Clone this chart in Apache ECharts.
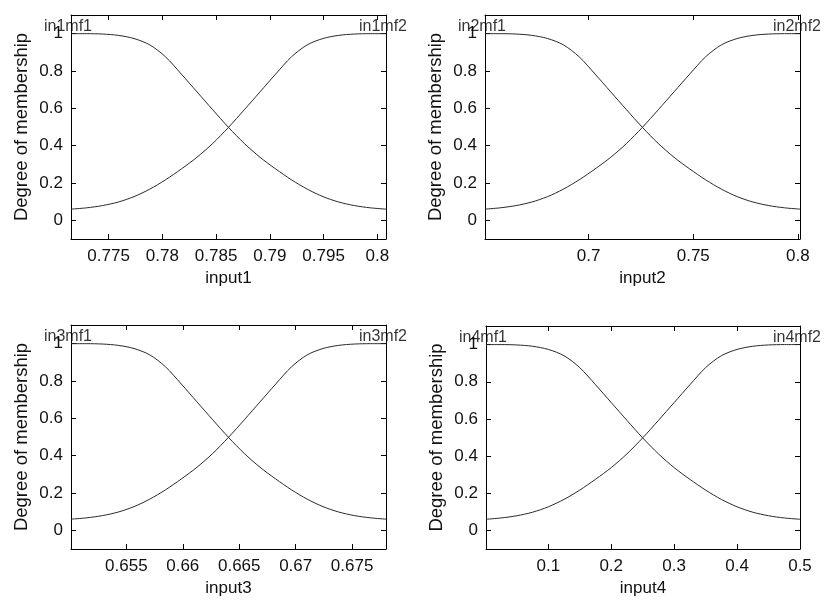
<!DOCTYPE html>
<html>
<head>
<meta charset="utf-8">
<script src="https://cdn.jsdelivr.net/npm/echarts@6/dist/echarts.min.js"></script>
<style>
html,body{margin:0;padding:0;background:#fff;}
#c{width:827px;height:601px;}
</style>
</head>
<body>
<div id="c"></div>
<script>
// Input names and membership function labels
const inputNames = ['input1', 'input2', 'input3', 'input4'];
const mfNames = [['in1mf1', 'in1mf2'], ['in2mf1', 'in2mf2'], ['in3mf1', 'in3mf2'], ['in4mf1', 'in4mf2']];

// Axis ranges
const xMins = [0.7715, 0.6505, 0.6501, 0.001];
const xMaxs = [0.8008, 0.801, 0.678, 0.5];

// X tick values per panel
const xTicks1 = [0.775, 0.78, 0.785, 0.79, 0.795, 0.8];
const xTicks2 = [0.7, 0.75, 0.8];
const xTicks3 = [0.655, 0.66, 0.665, 0.67, 0.675];
const xTicks4 = [0.1, 0.2, 0.3, 0.4, 0.5];
const yTicks = [0, 0.2, 0.4, 0.6, 0.8, 1];

// Sample positions along each input
const xs1 = [0.7715, 0.772965, 0.77443, 0.775895, 0.77736, 0.778825, 0.78029, 0.781755, 0.78322, 0.784685, 0.78615, 0.787615, 0.78908, 0.790545, 0.79201, 0.793475, 0.79494, 0.796405, 0.79787, 0.799335, 0.8008];
const xs2 = [0.6505, 0.65775, 0.6653, 0.67285, 0.6804, 0.68795, 0.6955, 0.70305, 0.7106, 0.71815, 0.7257, 0.73325, 0.7408, 0.74835, 0.7559, 0.76345, 0.771, 0.77855, 0.7861, 0.79365, 0.801];
const xs3 = [0.6501, 0.651495, 0.65289, 0.654285, 0.65568, 0.657075, 0.65847, 0.659865, 0.66126, 0.662655, 0.66405, 0.665445, 0.66684, 0.668235, 0.66963, 0.671025, 0.67242, 0.673815, 0.67521, 0.676605, 0.678];
const xs4 = [0.001, 0.025, 0.05, 0.075, 0.1, 0.125, 0.15, 0.175, 0.2, 0.225, 0.25, 0.275, 0.3, 0.325, 0.35, 0.375, 0.4, 0.425, 0.45, 0.475, 0.5];

// Degree of membership values read at those positions (same shape in all panels)
const mf1Degree = [1.0, 1.0, 0.998, 0.991, 0.974, 0.94, 0.876, 0.784, 0.688, 0.592, 0.498, 0.412, 0.338, 0.275, 0.217, 0.167, 0.127, 0.098, 0.079, 0.067, 0.06];
const mf2Degree = [0.06, 0.067, 0.079, 0.098, 0.127, 0.167, 0.217, 0.275, 0.338, 0.412, 0.498, 0.592, 0.688, 0.784, 0.876, 0.94, 0.974, 0.991, 0.998, 1.0, 1.0];

const xsAll = [xs1, xs2, xs3, xs4];
const xTicksAll = [xTicks1, xTicks2, xTicks3, xTicks4];

const FONT = 'Liberation Sans';
const grids = [
  {left: 71, top: 15, width: 315, height: 224},
  {left: 485, top: 15, width: 315, height: 224},
  {left: 71, top: 325, width: 315, height: 224},
  {left: 486, top: 326, width: 314, height: 223}
];

const fmt = v => String(+(+v).toFixed(4));
const xAxes = [], yAxes = [], series = [];
for (let i = 0; i < 4; i++) {
  const common = {
    type: 'value', gridIndex: i, min: xMins[i], max: xMaxs[i],
    splitLine: {show: false},
    axisLine: {show: true, onZero: false, lineStyle: {color: '#000', width: 1}},
    axisTick: {show: true, inside: true, length: 5, customValues: xTicksAll[i], lineStyle: {color: '#000'}}
  };
  xAxes.push(Object.assign({}, common, {
    position: 'bottom',
    axisLabel: {show: true, customValues: xTicksAll[i], formatter: fmt, margin: 9, fontSize: 17, color: '#111', fontFamily: FONT},
    name: inputNames[i], nameLocation: 'middle', nameGap: 31,
    nameTextStyle: {fontSize: 17, color: '#111', fontFamily: FONT}
  }));
  xAxes.push(Object.assign({}, common, {position: 'top', axisLabel: {show: false}}));
  const ycommon = {
    type: 'value', gridIndex: i, min: -0.1, max: 1.1,
    splitLine: {show: false},
    axisLine: {show: true, onZero: false, lineStyle: {color: '#000', width: 1}},
    axisTick: {show: true, inside: true, length: 5, customValues: yTicks, lineStyle: {color: '#000'}}
  };
  yAxes.push(Object.assign({}, ycommon, {
    position: 'left',
    axisLabel: {show: true, customValues: yTicks, formatter: fmt, margin: 8, fontSize: 17, color: '#111', fontFamily: FONT},
    name: 'Degree of membership', nameLocation: 'middle', nameGap: 40,
    nameTextStyle: {fontSize: 18.5, color: '#111', fontFamily: FONT}
  }));
  yAxes.push(Object.assign({}, ycommon, {position: 'right', axisLabel: {show: false}}));

  const xs = xsAll[i];
  [mf1Degree, mf2Degree].forEach((deg) => {
    series.push({
      type: 'line', xAxisIndex: 2 * i, yAxisIndex: 2 * i,
      data: xs.map((x, k) => [x, deg[k]]),
      showSymbol: false, smooth: 0.3,
      lineStyle: {color: '#2a2a2a', width: 1}, silent: true, animation: false
    });
  });
  series.push({
    type: 'scatter', xAxisIndex: 2 * i, yAxisIndex: 2 * i, symbolSize: 0,
    data: [
      {value: [xs[0], mf1Degree[0]], name: mfNames[i][0]},
      {value: [xs[xs.length - 1], mf2Degree[mf2Degree.length - 1]], name: mfNames[i][1]}
    ],
    label: {show: true, position: 'top', distance: 0, offset: [-3, 1], formatter: p => p.name,
      fontSize: 16, color: '#000', fontFamily: FONT},
    silent: true, animation: false, clip: false
  });
}

const chart = echarts.init(document.getElementById('c'), null, {renderer: 'canvas'});
chart.setOption({
  backgroundColor: '#fff',
  animation: false,
  grid: grids,
  xAxis: xAxes,
  yAxis: yAxes,
  series: series
});
</script>
</body>
</html>
